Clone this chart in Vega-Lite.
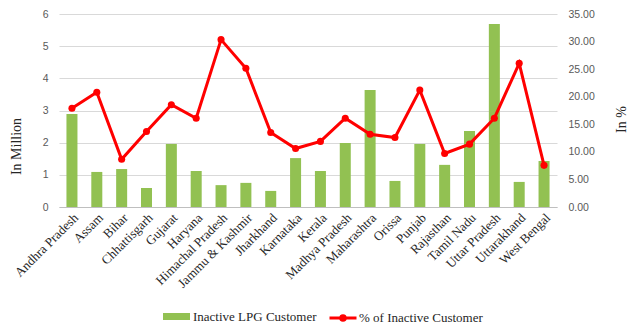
{
  "$schema": "https://vega.github.io/schema/vega-lite/v6.json",
  "autosize": {"type": "none"},
  "width": 498,
  "height": 193,
  "padding": {"left": 59, "top": 14, "right": 74, "bottom": 128},
  "background": "white",
  "data": {"values": [
    {"state": "Andhra Pradesh", "million": 2.89, "pct": 17.9},
    {"state": "Assam", "million": 1.09, "pct": 20.8},
    {"state": "Bihar", "million": 1.18, "pct": 8.65},
    {"state": "Chhattisgarh", "million": 0.59, "pct": 13.7},
    {"state": "Gujarat", "million": 1.96, "pct": 18.55},
    {"state": "Haryana", "million": 1.12, "pct": 16.1},
    {"state": "Himachal Pradesh", "million": 0.68, "pct": 30.35},
    {"state": "Jammu & Kashmir", "million": 0.75, "pct": 25.15},
    {"state": "Jharkhand", "million": 0.5, "pct": 13.5},
    {"state": "Karnataka", "million": 1.52, "pct": 10.6},
    {"state": "Kerala", "million": 1.12, "pct": 11.9},
    {"state": "Madhya Pradesh", "million": 1.99, "pct": 16.1},
    {"state": "Maharashtra", "million": 3.64, "pct": 13.2},
    {"state": "Orissa", "million": 0.81, "pct": 12.6},
    {"state": "Punjab", "million": 1.96, "pct": 21.2},
    {"state": "Rajasthan", "million": 1.31, "pct": 9.7},
    {"state": "Tamil Nadu", "million": 2.36, "pct": 11.4},
    {"state": "Uttar Pradesh", "million": 5.69, "pct": 16.1},
    {"state": "Uttarakhand", "million": 0.78, "pct": 26.05},
    {"state": "West Bengal", "million": 1.43, "pct": 7.55}
  ]},
  "encoding": {
    "x": {
      "field": "state", "type": "nominal", "sort": null,
      "scale": {"paddingInner": 0.557, "paddingOuter": 0.3},
      "axis": {
        "title": null, "labelAngle": -45, "labelFont": "Liberation Serif", "labelFontSize": 13,
        "labelColor": "#262626", "ticks": false, "domainColor": "#bfbfbf", "labelPadding": 4,
        "grid": false, "labelOverlap": false
      }
    }
  },
  "layer": [
    {
      "mark": {"type": "bar"},
      "encoding": {
        "y": {
          "field": "million", "type": "quantitative",
          "scale": {"domain": [0, 6]},
          "axis": {
            "title": "In Million", "values": [0, 1, 2, 3, 4, 5, 6], "orient": "left",
            "titleFont": "Liberation Serif", "titleFontSize": 14, "titleFontWeight": "normal", "titleColor": "#262626",
            "titlePadding": 19, "titleY": 132,
            "labelFont": "Liberation Sans", "labelFontSize": 10.5, "labelColor": "#595959",
            "labelPadding": 11, "ticks": false, "domain": false,
            "gridColor": "#d9d9d9", "gridWidth": 1
          }
        },
        "fill": {
          "datum": "Inactive LPG Customer", "type": "nominal",
          "scale": {"range": ["#92c152"]},
          "legend": {
            "title": null, "orient": "none", "legendX": 104, "legendY": 289,
            "symbolType": "M-1,-0.26H1V0.26H-1Z", "symbolSize": 729, "symbolStrokeWidth": 0,
            "labelFont": "Liberation Serif", "labelFontSize": 13, "labelColor": "#262626", "labelOffset": 3
          }
        }
      }
    },
    {
      "mark": {"type": "line", "strokeWidth": 3},
      "encoding": {
        "y": {
          "field": "pct", "type": "quantitative",
          "scale": {"domain": [0, 35]},
          "axis": {
            "title": "In %", "orient": "right", "values": [0, 5, 10, 15, 20, 25, 30, 35], "format": ".2f",
            "titleFont": "Liberation Serif", "titleFontSize": 14, "titleFontWeight": "normal", "titleColor": "#262626",
            "titlePadding": 34, "titleAngle": -90, "titleY": 105,
            "labelFont": "Liberation Sans", "labelFontSize": 10.5, "labelColor": "#595959",
            "labelPadding": 11, "ticks": false, "domain": false, "grid": false
          }
        },
        "stroke": {
          "datum": "% of Inactive Customer", "type": "nominal",
          "scale": {"range": ["#ff0000"]},
          "legend": {
            "title": null, "orient": "none", "legendX": 269, "legendY": 289,
            "symbolType": "M-1,0H1M0.17,0A0.17,0.17 0 1,1 -0.17,0A0.17,0.17 0 1,1 0.17,0Z",
            "symbolSize": 729, "symbolStrokeWidth": 3, "symbolFillColor": "#ff0000",
            "labelFont": "Liberation Serif", "labelFontSize": 13, "labelColor": "#262626", "labelOffset": 1
          }
        }
      }
    },
    {
      "mark": {"type": "point", "filled": true, "shape": "circle", "size": 50, "color": "#ff0000", "opacity": 1},
      "encoding": {
        "y": {"field": "pct", "type": "quantitative", "scale": {"domain": [0, 35]}, "axis": null}
      }
    }
  ],
  "resolve": {"scale": {"y": "independent"}},
  "config": {"view": {"stroke": null}, "legend": {"labelFont": "Liberation Serif", "labelFontSize": 13}}
}
